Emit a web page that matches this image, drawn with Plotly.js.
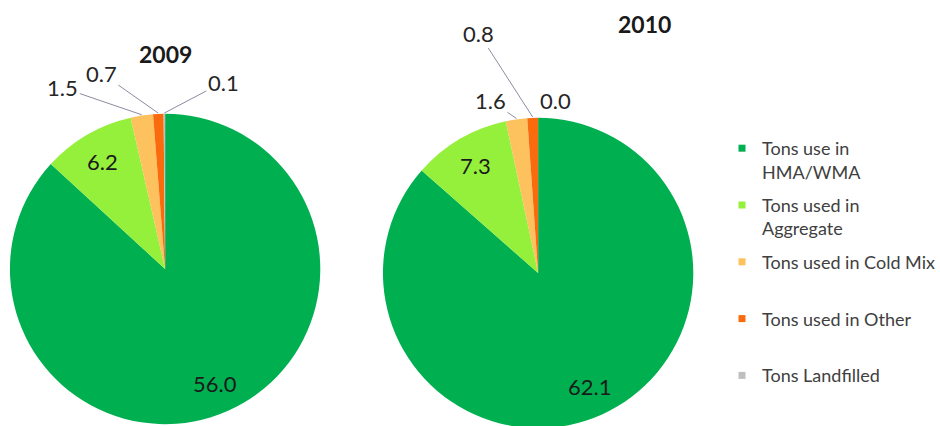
<!DOCTYPE html>
<html>
<head>
<meta charset="utf-8">
<script src="https://cdn.plot.ly/plotly-3.0.1.min.js"></script>
<style>
  html, body { margin:0; padding:0; overflow:hidden; background:#fff; }
  #chart { width:940px; height:440px; }
</style>
</head>
<body>
<div id="chart"></div>
<script>
// ---- data ----
const categories = ["Tons use in HMA/WMA", "Tons used in Aggregate", "Tons used in Cold Mix", "Tons used in Other", "Tons Landfilled"];
const legendLabels = ["Tons use in<br>HMA/WMA", "Tons used in<br>Aggregate", "Tons used in Cold Mix<br> ", "Tons used in Other<br> ", "Tons Landfilled"];
const years = ["2009", "2010"];
const values2009 = [56.0, 6.2, 1.5, 0.7, 0.1];
const values2010 = [62.1, 7.3, 1.6, 0.8, 0.0];
const colors = ["#00B050", "#94F03A", "#FDC15E", "#FA6B0E", "#BFBFBF"];

// ---- layout geometry (pixels) ----
const W = 940, H = 440;
const pies = [
  {vals: values2009, cx: 166, cy: 269, r: 156, title: years[0], tx: 166, ty: 54,
   outOff: {2: [-79, -27], 3: [-57, -40], 4: [59, -31]}, noArrow: {}},
  {vals: values2010, cx: 541, cy: 273, r: 156, title: years[1], tx: 648, ty: 24,
   outOff: {2: [-26, -18], 3: [-54, -84], 4: [17, -17]}, noArrow: {4: true}}
];
const px2x = p => p / W;
const py2y = p => 1 - p / H;

const traces = [];
const annotations = [];

pies.forEach((P, k) => {
  traces.push({
    type: "pie",
    labels: categories,
    values: P.vals,
    sort: false,
    direction: "clockwise",
    rotation: 0,
    textinfo: "none",
    hoverinfo: "label+value",
    showlegend: false,
    marker: {colors: colors, line: {width: 0}},
    domain: {x: [px2x(P.cx - P.r), px2x(P.cx + P.r)], y: [py2y(P.cy + P.r), py2y(P.cy - P.r)]}
  });
  annotations.push({
    text: "<b>" + P.title + "</b>", x: px2x(P.tx), y: py2y(P.ty), xref: "paper", yref: "paper",
    xanchor: "center", yanchor: "middle",
    showarrow: false, font: {family: "Lato", size: 23, color: "#1a1a1a"}
  });
  const total = P.vals.reduce((a, b) => a + b, 0);
  let cum = 0;
  P.vals.forEach((v, i) => {
    const mid = (cum + v / 2) / total * 2 * Math.PI;
    cum += v;
    const label = v.toFixed(1);
    if (P.outOff[i]) {
      const ex = P.cx + P.r * Math.sin(mid), ey = P.cy - P.r * Math.cos(mid);
      const [ox, oy] = P.outOff[i];
      if (P.noArrow[i]) {
        annotations.push({text: label, x: px2x(ex + ox), y: py2y(ey + oy), xref: "paper", yref: "paper",
          xanchor: "center", yanchor: "middle",
          showarrow: false, font: {family: "Lato", size: 22, color: "#262626"}});
      } else {
        annotations.push({text: label, x: px2x(ex), y: py2y(ey), xref: "paper", yref: "paper",
          showarrow: true, ax: ox, ay: oy, arrowhead: 0, arrowwidth: 1, arrowcolor: "#8c8ca0", standoff: 0,
          font: {family: "Lato", size: 22, color: "#262626"}});
      }
    } else {
      const rr = 0.8 * P.r;
      annotations.push({text: label, x: px2x(P.cx + rr * Math.sin(mid)), y: py2y(P.cy - rr * Math.cos(mid)),
        xref: "paper", yref: "paper", xanchor: "center", yanchor: "middle",
        showarrow: false, font: {family: "Lato", size: 22, color: "#1a1a1a"}});
    }
  });
});

// legend entries (one per category)
categories.forEach((c, i) => {
  traces.push({
    type: "scatter", mode: "markers", x: [null], y: [null], name: legendLabels[i],
    legendgroup: "g" + i, hoverinfo: "skip",
    marker: {symbol: "square", size: 7, color: colors[i]}
  });
});

const layout = {
  width: W, height: H,
  margin: {l: 0, r: 0, t: 0, b: 0},
  paper_bgcolor: "#ffffff", plot_bgcolor: "#ffffff",
  xaxis: {visible: false}, yaxis: {visible: false},
  showlegend: true,
  legend: {x: px2x(726), y: py2y(130), xanchor: "left", yanchor: "top", valign: "top",
    traceorder: "grouped", tracegroupgap: 7, itemwidth: 30,
    font: {family: "Lato", size: 18, color: "#404040"}, bgcolor: "rgba(0,0,0,0)"},
  annotations: annotations
};

Plotly.newPlot("chart", traces, layout, {staticPlot: true, displayModeBar: false});
</script>
</body>
</html>
